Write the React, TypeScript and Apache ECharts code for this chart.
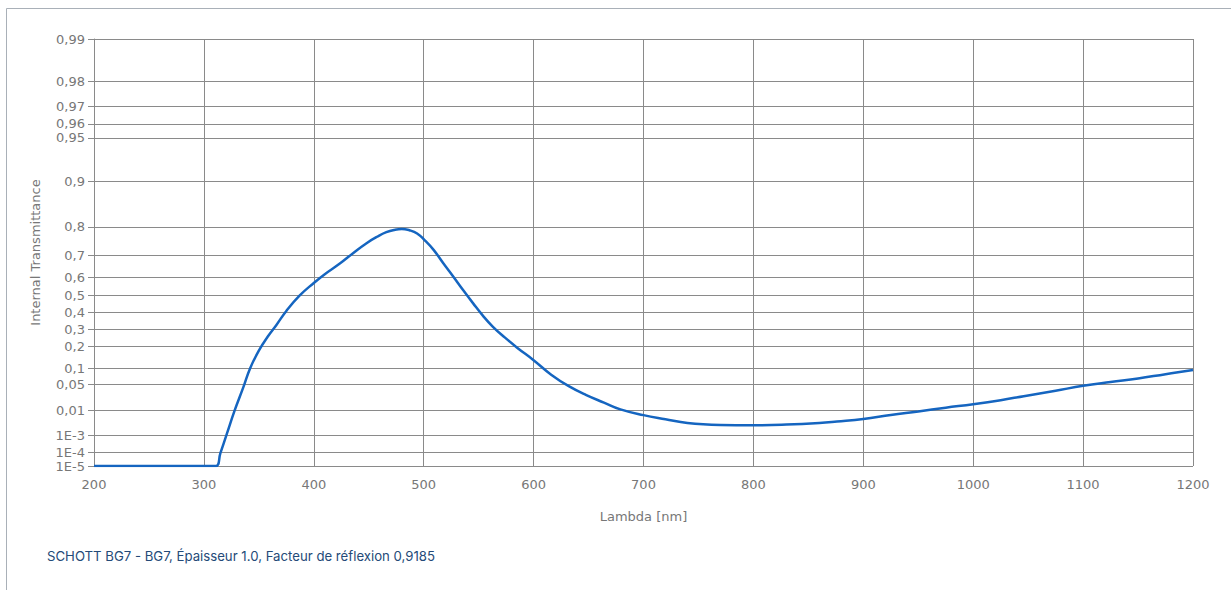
import React, { useEffect, useRef } from "react";
import * as echarts from "echarts";

// Wavelength [nm]
const wavelengths = [
  200, 250, 300, 311, 315, 321, 328, 336, 342, 350, 358, 366, 375, 387, 400,
  410, 424, 436, 448, 458, 466, 473, 480, 487, 494, 501, 509, 518, 527, 536,
  545, 554, 563, 574, 585, 600, 616, 632, 648, 664, 679, 700, 720, 740, 770,
  800, 830, 860, 876, 900, 925, 950, 975, 1000, 1025, 1046, 1075, 1100, 1125,
  1150, 1175, 1200,
];

// Internal transmittance
const transmittance = [
  1e-5, 1e-5, 1e-5, 1e-5, 9e-5, 1.2e-3, 0.01, 0.044, 0.1, 0.18, 0.255, 0.325,
  0.41, 0.5, 0.57, 0.615, 0.666, 0.71, 0.747, 0.77, 0.784, 0.791, 0.794, 0.79,
  0.78, 0.757, 0.722, 0.665, 0.602, 0.53, 0.455, 0.38, 0.314, 0.25, 0.195,
  0.134, 0.078, 0.0457, 0.028, 0.0175, 0.0108, 0.0069, 0.0049, 0.0035, 0.0029,
  0.0028, 0.003, 0.0035, 0.004, 0.005, 0.007, 0.0093, 0.0123, 0.0157, 0.0205,
  0.0263, 0.036, 0.0465, 0.056, 0.066, 0.0796, 0.094,
];

// Y-axis tick values and their labels
const yTickValues = [
  0.99, 0.98, 0.97, 0.96, 0.95, 0.9, 0.8, 0.7, 0.6, 0.5, 0.4, 0.3, 0.2, 0.1,
  0.05, 0.01, 1e-3, 1e-4, 1e-5,
];
const yTickLabels = [
  "0,99", "0,98", "0,97", "0,96", "0,95", "0,9", "0,8", "0,7", "0,6", "0,5",
  "0,4", "0,3", "0,2", "0,1", "0,05", "0,01", "1E-3", "1E-4", "1E-5",
];

const caption = "SCHOTT BG7 - BG7, Épaisseur 1.0, Facteur de réflexion 0,9185";

// Schott "diabatic" scale: -log10(-log10(T))
const toAxis = (t: number) => -Math.log10(-Math.log10(t));

export default function App() {
  const ref = useRef<HTMLDivElement>(null);

  useEffect(() => {
    if (!ref.current) return;
    const chart = echarts.init(ref.current, null, { renderer: "svg" });
    const yCustom = yTickValues.map(toAxis);
    const labelFor = (v: number) => {
      let best = 0;
      let bd = Infinity;
      yCustom.forEach((c, i) => {
        const d = Math.abs(c - v);
        if (d < bd) {
          bd = d;
          best = i;
        }
      });
      return yTickLabels[best];
    };
    const gridColor = "#8a8a8a";
    const labelFont = "'DejaVu Sans', Verdana, sans-serif";

    chart.setOption({
      animation: false,
      backgroundColor: "#ffffff",
      grid: { left: 94, top: 39, width: 1099, bottom: 124, containLabel: false },
      xAxis: {
        type: "value",
        min: 200,
        max: 1200,
        interval: 100,
        name: "Lambda [nm]",
        nameLocation: "middle",
        nameGap: 44,
        nameTextStyle: { color: "#777", fontSize: 13, fontFamily: labelFont },
        axisLine: { show: true, lineStyle: { color: gridColor, width: 1 } },
        axisTick: { show: true, length: 6, lineStyle: { color: gridColor } },
        axisLabel: {
          color: "#777",
          fontSize: 13,
          fontFamily: labelFont,
          margin: 12,
          formatter: (v: number) => String(v),
        },
        splitLine: { show: true, lineStyle: { color: gridColor, width: 1 } },
      },
      yAxis: {
        type: "value",
        min: toAxis(1e-5),
        max: toAxis(0.99),
        name: "Internal Transmittance",
        nameLocation: "middle",
        nameGap: 52,
        nameTextStyle: { color: "#777", fontSize: 13, fontFamily: labelFont },
        axisLine: { show: true, lineStyle: { color: gridColor, width: 1 } },
        axisTick: {
          show: true,
          length: 6,
          lineStyle: { color: gridColor },
          customValues: yCustom,
        },
        axisLabel: {
          color: "#777",
          fontSize: 13,
          fontFamily: labelFont,
          margin: 9,
          customValues: yCustom,
          formatter: (v: number) => labelFor(v),
        },
        splitLine: { show: true, lineStyle: { color: gridColor, width: 1 } },
      },
      graphic: [
        {
          type: "line",
          shape: { x1: 6.5, y1: 8.5, x2: 1231, y2: 8.5 },
          style: { stroke: "#a9b0b8", lineWidth: 1 },
          silent: true,
        },
        {
          type: "line",
          shape: { x1: 6.5, y1: 8.5, x2: 6.5, y2: 590 },
          style: { stroke: "#a9b0b8", lineWidth: 1 },
          silent: true,
        },
        {
          type: "text",
          left: 47,
          top: 549,
          style: {
            text: caption,
            fill: "#244a78",
            fontSize: 13.2,
            fontFamily: "Inter, 'Noto Sans', sans-serif",
          },
          silent: true,
        },
      ],
      series: [
        {
          type: "line",
          data: wavelengths.map((w, i) => [w, toAxis(transmittance[i])]),
          showSymbol: false,
          smooth: 0.45,
          lineStyle: { color: "#1565c0", width: 2.5 },
          itemStyle: { color: "#1565c0" },
          clip: true,
        },
      ],
    });
    return () => chart.dispose();
  }, []);

  return (
    <div
      ref={ref}
      style={{ position: "absolute", left: 0, top: 0, width: 1231, height: 590 }}
    />
  );
}
